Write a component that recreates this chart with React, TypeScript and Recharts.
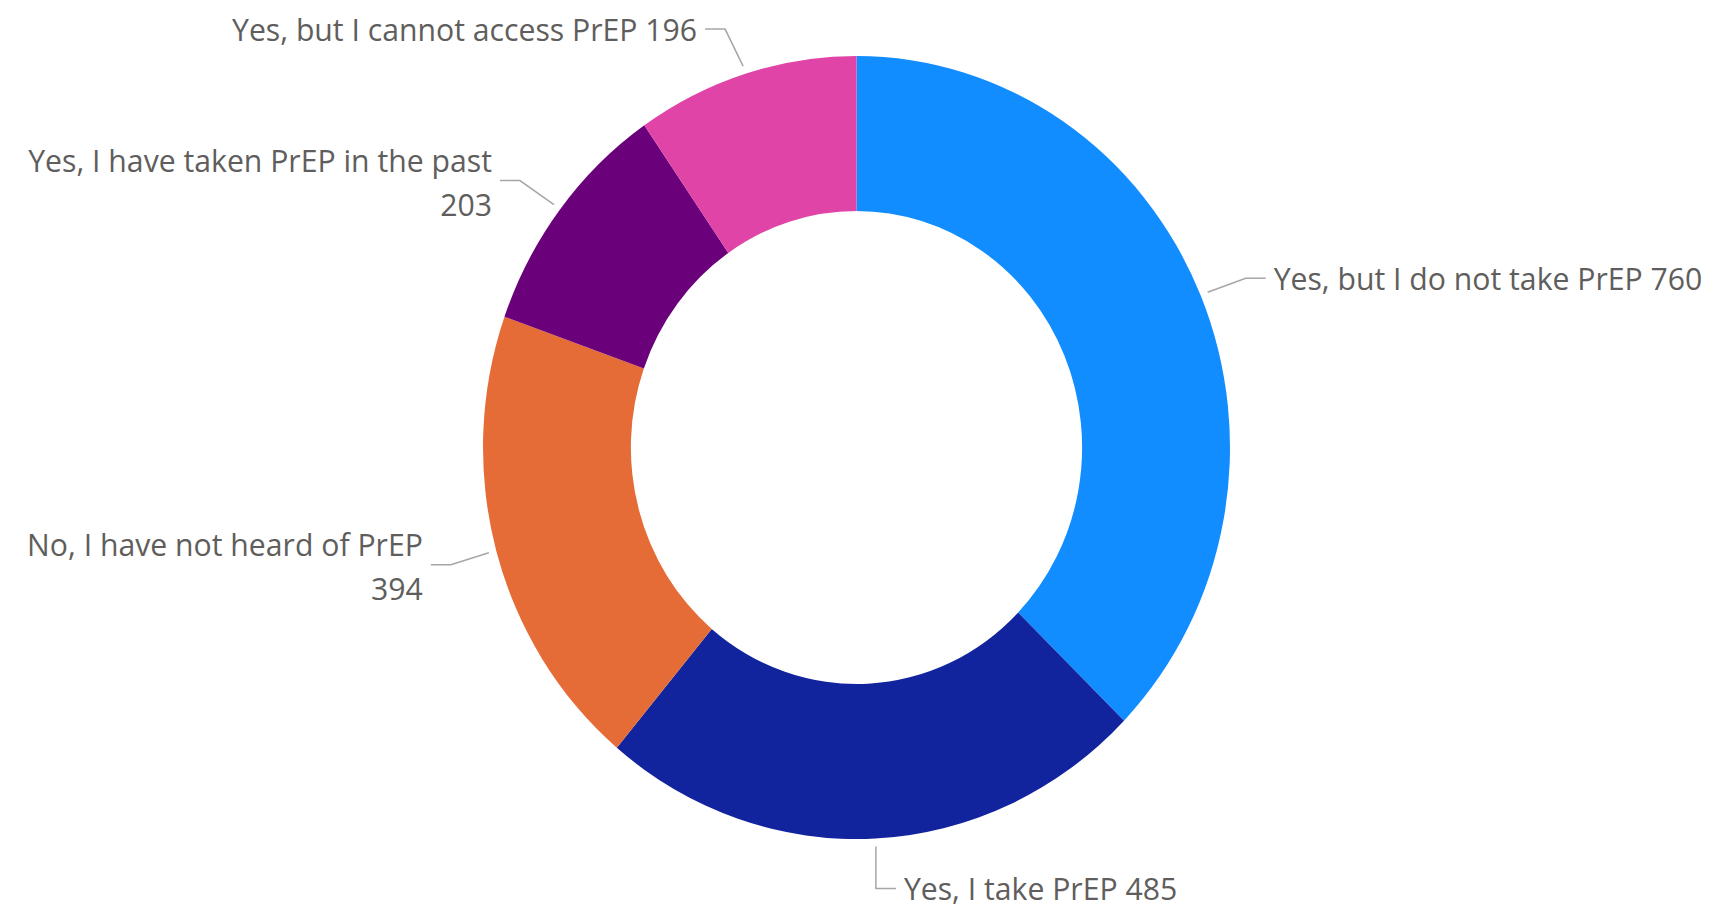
import React from 'react';
import { PieChart, Pie, Cell } from 'recharts';

// survey answers, clockwise from 12 o'clock
const categories = [
  'Yes, but I do not take PrEP',
  'Yes, I take PrEP',
  'No, I have not heard of PrEP',
  'Yes, I have taken PrEP in the past',
  'Yes, but I cannot access PrEP',
];
const counts = [760, 485, 394, 203, 196];
const colors = ['#118DFF', '#12239E', '#E66C37', '#6B007B', '#E044A7'];

// leader line elbow offsets (from the point just outside the ring), text side, wrapped?
const LABEL_LAYOUT = [
  { dx: 38, dy: -14, side: 1, wrap: false },
  { dx: 0, dy: 42, side: 1, wrap: false },
  { dx: -38, dy: 12, side: -1, wrap: true },
  { dx: -34, dy: -24, side: -1, wrap: true },
  { dx: -18, dy: -37, side: -1, wrap: false },
];

const RADIAN = Math.PI / 180;
const SCALE_X = 0.954; // reference ring is slightly squashed horizontally
const CX = 856.5;
const CY = 447.5;
const FONT = "'Segoe UI', 'Open Sans', sans-serif";
const FONT_SIZE = 30.2;

const data = categories.map((name, i) => ({ name, value: counts[i] }));

function renderLabel(props: any) {
  const { cx, cy, midAngle, outerRadius, index } = props;
  const lay = LABEL_LAYOUT[index];
  const r = outerRadius + 8;
  const sx = cx + Math.cos(-midAngle * RADIAN) * r * SCALE_X;
  const sy = cy + Math.sin(-midAngle * RADIAN) * r;
  const ex = sx + lay.dx;
  const ey = sy + lay.dy;
  const hx = ex + lay.side * 20;
  const tx = hx + lay.side * 8;
  const anchor = lay.side > 0 ? 'start' : 'end';
  const name = categories[index];
  const val = counts[index];

  return (
    <g key={`lbl-${index}`}>
      <polyline
        points={`${sx},${sy} ${ex},${ey} ${hx},${ey}`}
        fill="none"
        stroke="#A6A6A6"
        strokeWidth={1.5}
      />
      {lay.wrap ? (
        <text x={tx} y={ey} textAnchor={anchor} fill="#605E5C" fontSize={FONT_SIZE} fontFamily={FONT}>
          <tspan x={tx} y={ey - 20} dominantBaseline="central">{name}</tspan>
          <tspan x={tx} y={ey + 24} dominantBaseline="central">{val}</tspan>
        </text>
      ) : (
        <text x={tx} y={ey} textAnchor={anchor} dominantBaseline="central"
          fill="#605E5C" fontSize={FONT_SIZE} fontFamily={FONT}>
          {`${name} ${val}`}
        </text>
      )}
    </g>
  );
}

export default function App() {
  return (
    <div style={{ position: 'absolute', left: 0, top: 0, width: 1717, height: 916, background: '#fff' }}>
      <style>{`
        path.recharts-sector {
          transform-box: view-box;
          transform-origin: ${CX}px ${CY}px;
          transform: scaleX(${SCALE_X});
        }
      `}</style>
      <PieChart width={1717} height={916} margin={{ top: 0, right: 0, bottom: 0, left: 0 }}>
        <Pie
          data={data}
          dataKey="value"
          nameKey="name"
          cx={CX}
          cy={CY}
          innerRadius={236.5}
          outerRadius={391.5}
          startAngle={90}
          endAngle={-270}
          stroke="none"
          label={renderLabel}
          labelLine={false}
          isAnimationActive={false}
        >
          {data.map((d, i) => (
            <Cell key={d.name} fill={colors[i]} />
          ))}
        </Pie>
      </PieChart>
    </div>
  );
}
